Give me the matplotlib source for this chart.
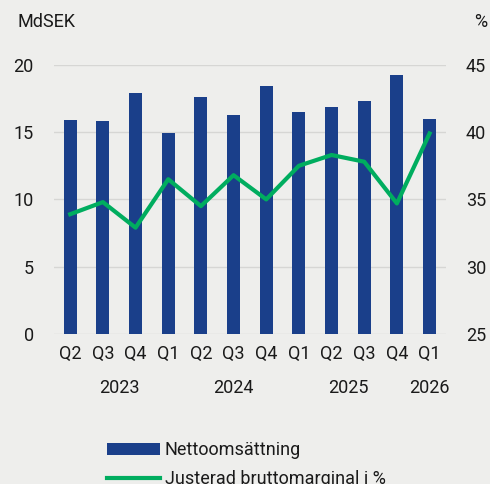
import matplotlib
matplotlib.use("Agg")
import matplotlib.pyplot as plt
from matplotlib.patches import Patch
from matplotlib.lines import Line2D
import numpy as np

quarters = ["Q2", "Q3", "Q4", "Q1", "Q2", "Q3", "Q4", "Q1", "Q2", "Q3", "Q4", "Q1"]
years = ["2023", "2024", "2025", "2026"]
year_pos = [1.5, 5.0, 8.5, 11.0]
net_sales = [15.9, 15.8, 17.9, 14.95, 17.6, 16.25, 18.4, 16.5, 16.85, 17.3, 19.25, 15.95]
gross_margin = [33.9, 34.8, 32.9, 36.5, 34.5, 36.8, 35.0, 37.5, 38.3, 37.8, 34.7, 39.9]
left_ticks = [0, 5, 10, 15, 20]
right_ticks = [25, 30, 35, 40, 45]

BG = "#eeeeec"
BLUE = "#1a3f8a"
GREEN = "#00ad5f"
TXT = "#1a1a1a"

plt.rcParams['font.family'] = ['Roboto', 'DejaVu Sans']
fs = 13

fig = plt.figure(figsize=(4.9, 4.84), dpi=100, facecolor=BG)
ax = fig.add_axes([0.110, 0.310, 0.800, 0.556], facecolor=BG)
x = np.arange(len(quarters))
ax.bar(x, net_sales, width=0.4, color=BLUE, zorder=2)
ax.set_ylim(0, 20)
ax.set_xlim(-0.5, len(quarters) - 0.5)
ax.set_yticks(left_ticks)
for t in left_ticks:
    ax.axhline(t, color="#d6d6d4", lw=1.0, zorder=1)
ax.set_xticks(x)
ax.set_xticklabels(quarters)
for s in ax.spines.values():
    s.set_visible(False)
ax.tick_params(axis='both', length=0, labelsize=fs, colors=TXT)
ax.tick_params(axis='y', pad=14.5)
ax.tick_params(axis='x', pad=8)

ax2 = ax.twinx()
ax2.plot(x, gross_margin, color=GREEN, lw=3, zorder=3)
ax2.set_ylim(25, 45)
ax2.set_yticks(right_ticks)
for s in ax2.spines.values():
    s.set_visible(False)
ax2.tick_params(axis='y', length=0, labelsize=fs, colors=TXT, pad=14.5)

for yp, yl in zip(year_pos, years):
    ax.text(yp, -0.2, yl, transform=ax.get_xaxis_transform(), ha='center', va='center',
            fontsize=fs, color=TXT)

fig.text(17/490, 1 - 22/484, "MdSEK", ha='left', va='center', fontsize=fs, color=TXT)
fig.text(487/490, 1 - 22/484, "%", ha='right', va='center', fontsize=fs, color=TXT)

handles = [Patch(facecolor=BLUE, edgecolor='none'), Line2D([0], [0], color=GREEN, lw=3)]
labels = ["Nettoomsättning", "Justerad bruttomarginal i %"]
fig.legend(handles, labels, loc='upper left', bbox_to_anchor=(100/490, 1 - 434/484),
           frameon=False, fontsize=fs, handlelength=2.9, handletextpad=0.3,
           labelspacing=0.62, borderaxespad=0, labelcolor=TXT)

fig.savefig("out.png", dpi=100, facecolor=BG)
